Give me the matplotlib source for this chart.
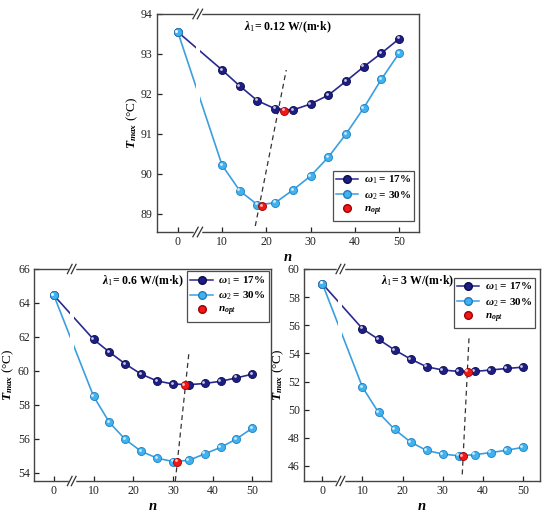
import numpy as np
import matplotlib
matplotlib.use("Agg")
import matplotlib.pyplot as plt
from matplotlib.transforms import offset_copy
from matplotlib.lines import Line2D

plt.rcParams['font.family'] = ['Liberation Serif', 'DejaVu Serif']
plt.rcParams['mathtext.fontset'] = 'custom'
plt.rcParams['mathtext.rm'] = 'Liberation Serif'
plt.rcParams['mathtext.it'] = 'Liberation Serif:italic:bold'
plt.rcParams['mathtext.bf'] = 'Liberation Serif:bold'

# DATA
n = [0, 10, 14, 18, 22, 26, 30, 34, 38, 42, 46, 50]

# lambda = 0.12
t1_a = [93.55, 92.6, 92.2, 91.83, 91.63, 91.6, 91.75, 91.97, 92.32, 92.68, 93.02, 93.38]
t2_a = [93.55, 90.22, 89.58, 89.23, 89.28, 89.6, 89.95, 90.42, 91.0, 91.65, 92.37, 93.02]
opt_n_a = [24, 19]
opt_t_a = [91.58, 89.2]
guide_n_a = [17.5, 24.5]
guide_t_a = [88.7, 92.6]

# lambda = 0.6
t1_b = [64.45, 61.85, 61.1, 60.4, 59.8, 59.4, 59.22, 59.18, 59.25, 59.38, 59.58, 59.8]
t2_b = [64.45, 58.5, 56.95, 55.95, 55.25, 54.85, 54.65, 54.72, 55.1, 55.48, 55.98, 56.62]
opt_n_b = [33, 31]
opt_t_b = [59.15, 54.65]
guide_n_b = [30.6, 34.0]
guide_t_b = [53.5, 61.0]

# lambda = 3
t1_c = [58.95, 55.75, 55.0, 54.25, 53.6, 53.05, 52.82, 52.72, 52.72, 52.82, 52.93, 53.02]
t2_c = [58.95, 51.6, 49.8, 48.6, 47.7, 47.1, 46.85, 46.72, 46.8, 46.95, 47.12, 47.32]
opt_n_c = [36.3, 35]
opt_t_c = [52.7, 46.7]
guide_n_c = [34.9, 36.6]
guide_t_c = [45.4, 55.2]

# COLOURS
c1_line, c1_face, c1_edge = '#2a2a8e', '#1d1d86', '#0c0c4a'
c2_line, c2_face, c2_edge = '#3a9fe0', '#3fb2f0', '#1f7dbf'
c_opt, c_opt_edge = '#f01818', '#a00000'


def sphere(ax, x, y, face, edge, ms=5.8, z=4):
    ax.plot(x, y, 'o', ms=ms, mfc=face, mec=edge, mew=0.6, zorder=z, ls='none')
    hl = offset_copy(ax.transData, fig=ax.figure, x=-1.0, y=1.0, units='points')
    ax.plot(x, y, 'o', ms=ms * 0.35, mfc='white', mec='none', alpha=0.75,
            transform=hl, zorder=z + 0.1, ls='none')


def axis_break(ax, xb=4.5):
    # hide the lines in the gap
    ax.axvspan(xb - 0.5, xb + 0.5, color='white', zorder=2.5, lw=0)
    tr = ax.get_xaxis_transform()
    for yb in (0, 1):
        ax.plot([xb - 0.55, xb + 0.55], [yb, yb], color='white', lw=2.5,
                transform=tr, clip_on=False, zorder=10)
        for dx in (-0.5, 0.5):
            ax.plot([xb + dx - 0.6, xb + dx + 0.6], [yb - 0.022, yb + 0.022],
                    color='#333333', lw=0.9, transform=tr, clip_on=False, zorder=11)


def panel(ax, t1, t2, on, ot, gn, gt, ylim, yticks, xlim, title, tx, leg_loc, leg_anchor):
    ax.plot(n, t1, '-', color=c1_line, lw=1.2, zorder=2)
    ax.plot(n, t2, '-', color=c2_line, lw=1.2, zorder=2)
    ax.plot(gn, gt, '--', color='#333333', lw=0.9, dashes=(4, 3), zorder=3)
    sphere(ax, n, t1, c1_face, c1_edge)
    sphere(ax, n, t2, c2_face, c2_edge)
    sphere(ax, on, ot, c_opt, c_opt_edge, z=6)
    axis_break(ax)

    ax.set_xlim(*xlim)
    ax.set_ylim(*ylim)
    ax.set_xticks([0, 10, 20, 30, 40, 50])
    ax.set_yticks(yticks)
    ax.tick_params(direction='in', length=3.5, width=0.9, labelsize=8.5,
                   colors='#222222', top=False, right=False, pad=3)
    for s in ax.spines.values():
        s.set_color('#444444')
        s.set_linewidth(1.0)
    ax.set_xlabel('$n$', fontsize=10.5, labelpad=2)
    ax.set_ylabel('$T_{max}$ (°C)', fontsize=9.5, labelpad=1)
    ax.text(tx, 0.94, title, transform=ax.transAxes, ha='center', va='center',
            fontsize=8.5, fontweight='bold')

    handles = [
        Line2D([], [], color=c1_line, marker='o', mfc=c1_face, mec=c1_edge, ms=5.5, lw=1.1),
        Line2D([], [], color=c2_line, marker='o', mfc=c2_face, mec=c2_edge, ms=5.5, lw=1.1),
        Line2D([], [], color='none', marker='o', mfc=c_opt, mec=c_opt_edge, ms=5.5),
    ]
    labels = [r'$\omega_1$ = 17%', r'$\omega_2$ = 30%', r'$n_{opt}$']
    leg = ax.legend(handles, labels, loc=leg_loc, bbox_to_anchor=leg_anchor,
                    fontsize=8, frameon=True, fancybox=False, handlelength=2.0,
                    handletextpad=0.5, borderpad=0.3, labelspacing=0.25,
                    borderaxespad=0.2)
    leg.get_frame().set_edgecolor('#222222')
    leg.get_frame().set_linewidth(0.9)
    for t in leg.get_texts():
        t.set_fontweight('bold')


fig = plt.figure(figsize=(5.5, 5.16), dpi=100)
ax_a = fig.add_axes([0.2855, 0.5504, 0.4764, 0.4225])
ax_b = fig.add_axes([0.0618, 0.0678, 0.4309, 0.4109])
ax_c = fig.add_axes([0.5527, 0.0678, 0.4291, 0.4109])

panel(ax_a, t1_a, t2_a, opt_n_a, opt_t_a, guide_n_a, guide_t_a,
      (88.55, 94), [89, 90, 91, 92, 93, 94], (-4.7, 54.5),
      r'$\lambda_1$= 0.12 W/(m·k)', 0.5, 'lower right', (0.99, 0.04))
panel(ax_b, t1_b, t2_b, opt_n_b, opt_t_b, guide_n_b, guide_t_b,
      (53.5, 66), [54, 56, 58, 60, 62, 64, 66], (-5.0, 54.7),
      r'$\lambda_1$= 0.6 W/(m·k)', 0.46, 'upper right', (1.0, 1.0))
panel(ax_c, t1_c, t2_c, opt_n_c, opt_t_c, guide_n_c, guide_t_c,
      (44.93, 60), [46, 48, 50, 52, 54, 56, 58, 60], (-4.6, 54.3),
      r'$\lambda_1$= 3 W/(m·k)', 0.48, 'upper right', (0.99, 0.97))

fig.savefig('out.png', dpi=100)
